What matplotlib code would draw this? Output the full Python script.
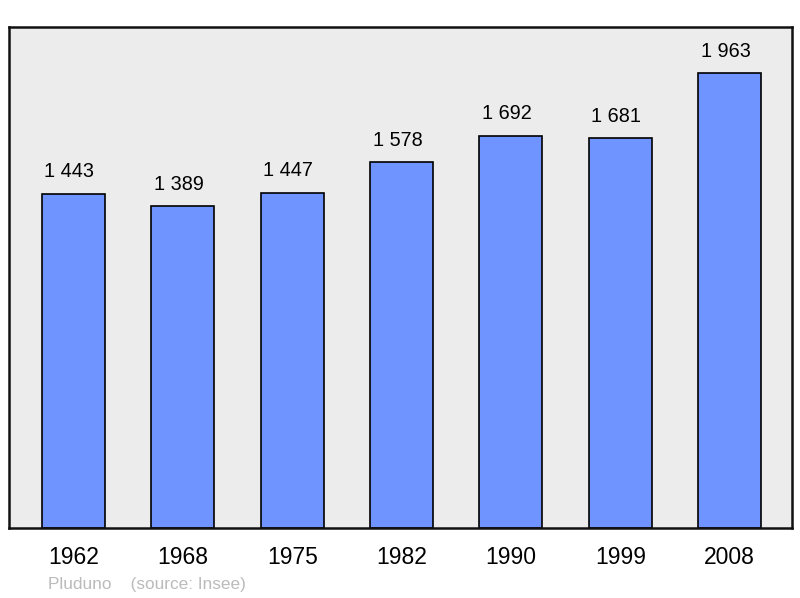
import numpy as np
import matplotlib.pyplot as plt

# ── Data ──────────────────────────────────────────────────────────────────────
years = ['1962', '1968', '1975', '1982', '1990', '1999', '2008']
population = [1443, 1389, 1447, 1578, 1692, 1681, 1963]

plt.rcParams['font.family'] = ['Liberation Sans', 'DejaVu Sans']

fig = plt.figure(figsize=(8, 5.98), dpi=100)
ax = fig.add_axes([9 / 800, 1 - 528 / 598, 783 / 800, 501 / 598])
ax.set_facecolor('#ececec')

x = np.arange(len(years))
ax.bar(x, population, width=0.576, color='#7094ff', edgecolor='black', linewidth=1.2, zorder=2)

for xi, v in zip(x, population):
    label = f'{v:,}'.replace(',', ' ')
    ax.annotate(label, (xi, v), textcoords='offset points', xytext=(-3, 9),
                ha='center', va='bottom', fontsize=14.3, color='black')

ax.set_xlim(-0.59, 6.57)
ax.set_ylim(0, 2162)
ax.set_xticks(x)
ax.set_xticklabels(years, fontsize=16.5)
ax.tick_params(axis='x', length=0, pad=13)
ax.set_yticks([])
for s in ax.spines.values():
    s.set_linewidth(1.8)
    s.set_color('#111111')

fig.text(48 / 800, 1 - 584 / 598, 'Pluduno    (source: Insee)', fontsize=12.4,
         color='#bbbbbb', ha='left', va='center')

plt.savefig('out.png', dpi=100)
